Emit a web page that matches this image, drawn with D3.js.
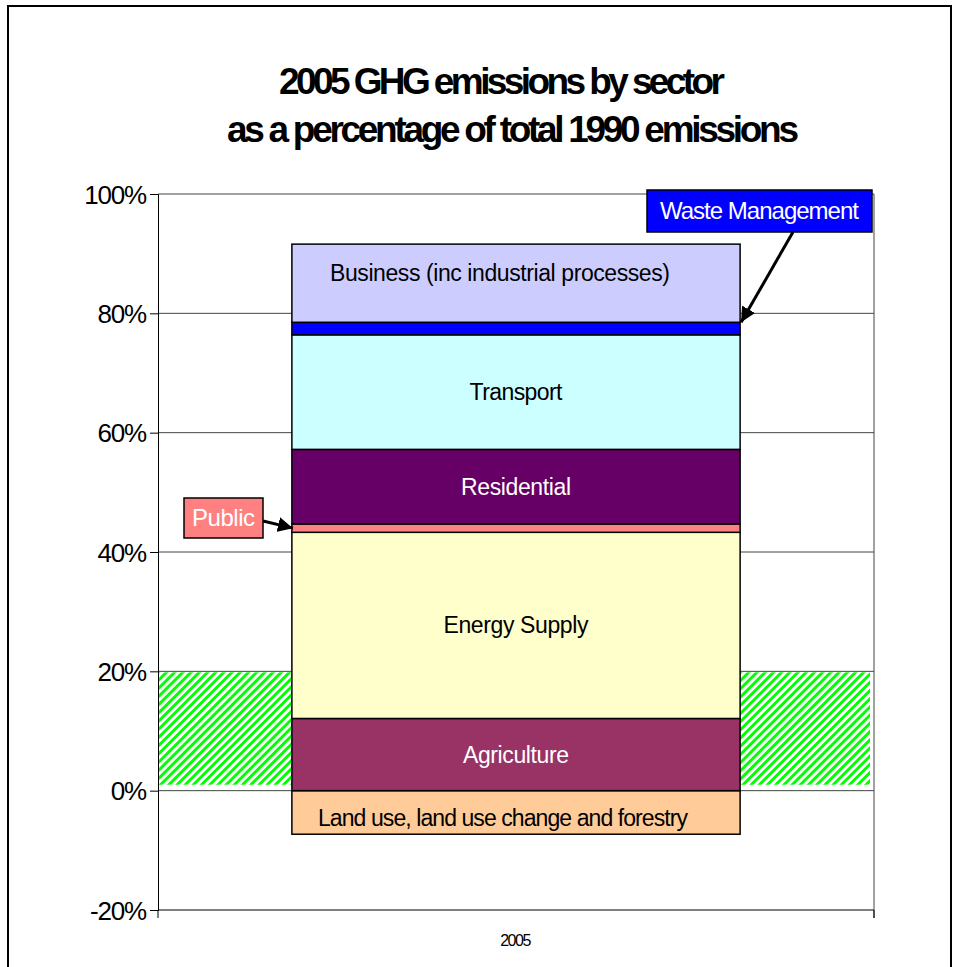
<!DOCTYPE html>
<html>
<head>
<meta charset="utf-8">
<script src="https://cdn.jsdelivr.net/npm/d3@7"></script>
<style>
  body { margin: 0; background: #fff; }
  svg text { font-family: "Liberation Sans", Arial, sans-serif; }
</style>
</head>
<body>
<svg id="chart" width="955" height="967"></svg>
<script>
// données
var categories = ["2005"];
var sectors = ["Land use, land use change and forestry", "Agriculture", "Energy Supply", "Public",
               "Residential", "Transport", "Waste Management", "Business (inc industrial processes)"];
var values = [-7.3, 12.1, 31.2, 1.4, 12.5, 19.2, 2.1, 13.1];
var colors = ["#FFCC99", "#993366", "#FFFFCC", "#FF8080", "#660066", "#CCFFFF", "#0000FF", "#CCCCFF"];
var labelColors = ["#000", "#fff", "#000", null, "#fff", "#000", null, "#000"];
var tickValues = [-20, 0, 20, 40, 60, 80, 100];
var targetBand = [1, 20]; // zone hachurée verte
var titleLines = ["2005 GHG emissions by sector", "as a percentage of total 1990 emissions"];

var svg = d3.select("#chart");

// cadre extérieur
svg.append("rect")
  .attr("x", 8).attr("y", 6).attr("width", 943).attr("height", 1000)
  .attr("fill", "#fff").attr("stroke", "#000").attr("stroke-width", 2);

// titre
var titleW = [446, 572], titleX = [502, 513];
svg.selectAll(".title").data(titleLines).enter().append("text")
  .attr("class", "title")
  .attr("x", function(d, i) { return titleX[i]; })
  .attr("y", function(d, i) { return 94 + i * 48; })
  .attr("text-anchor", "middle")
  .attr("font-size", 37).attr("font-weight", "bold")
  .attr("textLength", function(d, i) { return titleW[i]; })
  .attr("lengthAdjust", "spacing")
  .text(function(d) { return d; });

// échelles
var left = 158, right = 874;
var y = d3.scaleLinear().domain([-20, 100]).range([910, 194]);
var x = d3.scaleBand().domain(categories).range([left, right]).padding(0.23);

// motif hachuré
var defs = svg.append("defs");
var pat = defs.append("pattern")
  .attr("id", "hatch").attr("patternUnits", "userSpaceOnUse")
  .attr("width", 5.8).attr("height", 5.8)
  .attr("patternTransform", "rotate(45)");
pat.append("rect").attr("width", 5.8).attr("height", 5.8).attr("fill", "#fff");
pat.append("rect").attr("width", 2.9).attr("height", 5.8).attr("fill", "#00FF00");

svg.append("rect")
  .attr("x", left + 1).attr("width", right - left - 5)
  .attr("y", y(targetBand[1]) + 1)
  .attr("height", y(targetBand[0]) - y(targetBand[1]) - 1)
  .attr("fill", "url(#hatch)");

// grille
svg.selectAll(".grid").data(tickValues).enter().append("line")
  .attr("x1", left).attr("x2", right)
  .attr("y1", function(d) { return y(d); }).attr("y2", function(d) { return y(d); })
  .attr("stroke", function(d) { return d === -20 ? "#000" : "#444"; })
  .attr("stroke-width", 1);
svg.append("line").attr("x1", right).attr("x2", right).attr("y1", y(100)).attr("y2", y(-20) + 8)
  .attr("stroke", "#444");

// axe vertical
var yAxis = svg.append("g").attr("transform", "translate(" + left + ",0)")
  .call(d3.axisLeft(y).tickValues(tickValues).tickSize(8).tickPadding(4)
    .tickFormat(function(d) { return d + "%"; }));
yAxis.select(".domain").attr("stroke", "#000");
yAxis.selectAll(".tick line").attr("stroke", "#000");
yAxis.selectAll("text").attr("font-size", 26).attr("fill", "#000")
  .attr("letter-spacing", -1.2).attr("dy", "0.35em");

// axe horizontal : graduations de catégorie
svg.selectAll(".xt").data([left, right]).enter().append("line")
  .attr("x1", function(d) { return d; }).attr("x2", function(d) { return d; })
  .attr("y1", y(-20)).attr("y2", y(-20) + 8).attr("stroke", "#000");
svg.append("text")
  .attr("x", x("2005") + x.bandwidth() / 2 - 1).attr("y", 946)
  .attr("text-anchor", "middle").attr("font-size", 16).attr("letter-spacing", -1.5)
  .text(categories[0]);

// barres empilées
var stack = [];
var pos = 0;
values.forEach(function(v, i) {
  if (v < 0) stack.push({ y0: v, y1: 0, i: i });
  else { stack.push({ y0: pos, y1: pos + v, i: i }); pos += v; }
});

var bx = x("2005"), bw = x.bandwidth();
svg.selectAll(".seg").data(stack).enter().append("rect")
  .attr("class", "seg")
  .attr("x", bx).attr("width", bw)
  .attr("y", function(d) { return y(d.y1); })
  .attr("height", function(d) { return y(d.y0) - y(d.y1); })
  .attr("fill", function(d) { return colors[d.i]; })
  .attr("stroke", "#000").attr("stroke-width", 1.5);

// étiquettes dans les segments
var labelW = [370, 106, 145, 0, 110, 93, 0, 340];
var labelDy = [6, 0, 0, 0, 0, 0, 0, -10];
var labelDx = [-13, 0, 0, 0, 0, 0, 0, -16];
svg.selectAll(".lbl").data(stack.filter(function(d) { return labelColors[d.i]; }))
  .enter().append("text")
  .attr("x", function(d) { return bx + bw / 2 + labelDx[d.i]; })
  .attr("y", function(d) { return (y(d.y0) + y(d.y1)) / 2 + 8 + labelDy[d.i]; })
  .attr("text-anchor", "middle").attr("font-size", 23)
  .attr("fill", function(d) { return labelColors[d.i]; })
  .attr("textLength", function(d) { return labelW[d.i]; })
  .attr("lengthAdjust", "spacing")
  .text(function(d) { return sectors[d.i]; });

// flèches
defs.append("marker").attr("id", "arrow")
  .attr("viewBox", "0 0 10 10").attr("refX", 10).attr("refY", 5)
  .attr("markerWidth", 5).attr("markerHeight", 5).attr("orient", "auto")
  .append("path").attr("d", "M0,0L10,5L0,10z").attr("fill", "#000");

var waste = stack[6], pub = stack[3];
var callouts = [
  { i: 6, bx: 647, by: 190, w: 225, h: 42, tw: 199, from: [793, 232], to: [bx + bw + 1, y(waste.y1)] },
  { i: 3, bx: 184, by: 498, w: 79, h: 40, tw: 63, from: [263, 521], to: [bx + 1, y((pub.y0 + pub.y1) / 2)] }
];
callouts.forEach(function(c) {
  svg.append("line")
    .attr("x1", c.from[0]).attr("y1", c.from[1]).attr("x2", c.to[0]).attr("y2", c.to[1])
    .attr("stroke", "#000").attr("stroke-width", 3).attr("marker-end", "url(#arrow)");
  svg.append("rect").attr("x", c.bx).attr("y", c.by).attr("width", c.w).attr("height", c.h)
    .attr("fill", colors[c.i]).attr("stroke", "#000").attr("stroke-width", 1.5);
  svg.append("text").attr("x", c.bx + c.w / 2).attr("y", c.by + c.h / 2 + 8)
    .attr("text-anchor", "middle").attr("font-size", 24).attr("fill", "#fff")
    .attr("textLength", c.tw).attr("lengthAdjust", "spacing")
    .text(sectors[c.i]);
});
</script>
</body>
</html>
